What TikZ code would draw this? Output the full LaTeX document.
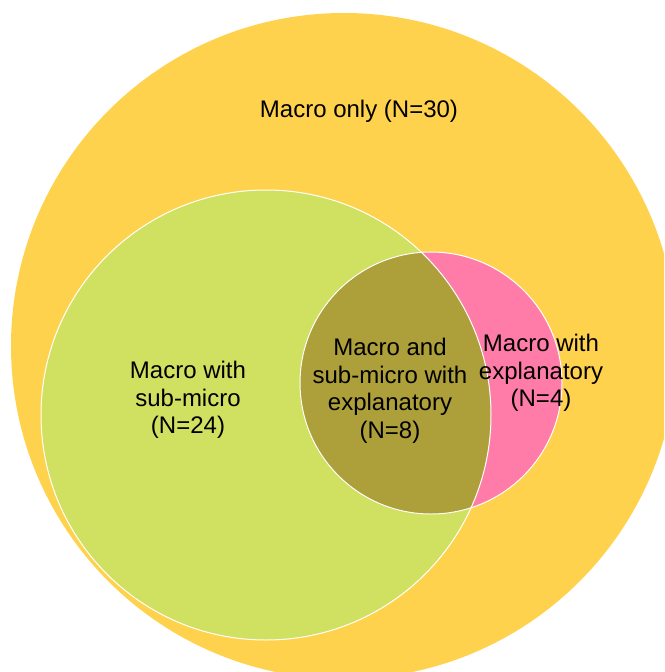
\documentclass[tikz,border=0pt]{standalone}
\usepackage{fontspec}
\setmainfont{Liberation Sans}
\usepackage{tikz}
\definecolor{macroYellow}{RGB}{255,210,77}
\definecolor{subGreen}{RGB}{208,224,96}
\definecolor{explPink}{RGB}{255,123,168}
\definecolor{bothOlive}{RGB}{173,159,58}
\newcommand{\nlab}[1]{(N=#1)}

\begin{document}
\begin{tikzpicture}[x=1pt,y=-1pt,
  venn label/.style={align=center,font=\fontsize{24}{27.5}\selectfont,inner sep=0pt},
  rim/.style={draw=white,line width=1pt}]
\useasboundingbox (0,0) rectangle (664,672);
\clip (0,0) rectangle (664,672);
\coordinate (cMacro) at (344,346);
\coordinate (cSub) at (266,415);
\coordinate (cExpl) at (431,383);
\fill[macroYellow] (cMacro) circle (333pt);
\fill[subGreen] (cSub) circle (225pt);
\fill[explPink] (cExpl) circle (131pt);
\begin{scope}
  \clip (cSub) circle (225pt);
  \fill[bothOlive] (cExpl) circle (131pt);
\end{scope}
\draw[rim] (cSub) circle (225pt);
\draw[rim] (cExpl) circle (131pt);
\node[venn label] (macroOnly) at (359,111) {Macro only \nlab{30}};
\node[venn label] (withSub) at (188,400) {Macro with\\sub-micro\\\nlab{24}};
\node[venn label] (withBoth) at (390,391) {Macro and\\sub-micro with\\explanatory\\\nlab{8}};
\node[venn label] (withExpl) at (541,373) {Macro with\\explanatory\\\nlab{4}};
\end{tikzpicture}
\end{document}
